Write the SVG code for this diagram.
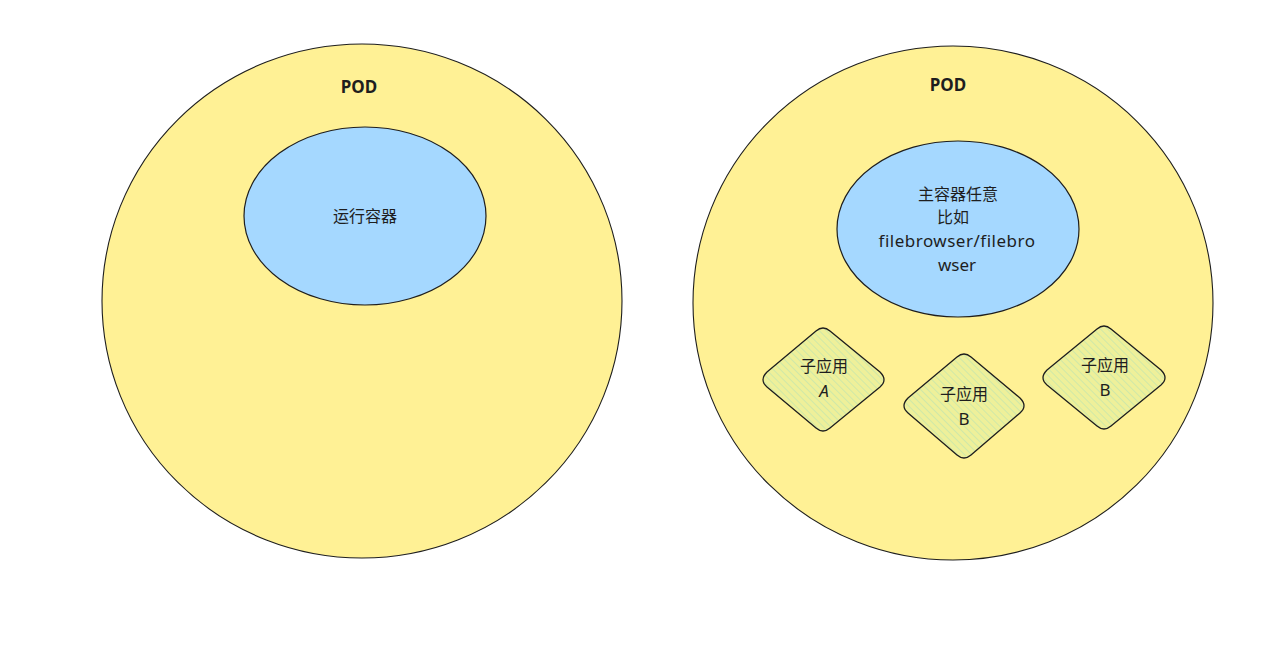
<svg xmlns="http://www.w3.org/2000/svg" width="1276" height="656" viewBox="0 0 1276 656">
<style>
.pod{fill:#fff08f;fill-opacity:0.95;stroke:#1e1e1e;stroke-width:1.1}
.ctr{fill:#a5d8ff;stroke:#1e1e1e;stroke-width:1.2}
.dia{fill:url(#hatch);stroke:#1e1e1e;stroke-width:1.3;stroke-linejoin:round}
.t{font-family:"Noto Sans","Noto Sans CJK SC",sans-serif;font-size:16px;fill:#1e1e1e;text-anchor:middle}
.h{font-family:"Noto Sans","Noto Sans CJK SC",sans-serif;font-size:17px;fill:#1e1e1e;text-anchor:middle}
</style>
<defs>
<pattern id="hatch" patternUnits="userSpaceOnUse" width="5" height="5" patternTransform="rotate(-45)">
<rect width="5" height="5" fill="#eef09a"/>
<line x1="0" y1="0" x2="0" y2="5" stroke="#cfe8a8" stroke-width="2"/>
</pattern>
</defs>
<rect width="1276" height="656" fill="#ffffff"/>
<g id="pod-left">
<ellipse class="pod" cx="362" cy="301" rx="260" ry="257"/>
<text class="h" x="359" y="93" font-weight="bold" font-size="15">POD</text>
</g>
<g id="container-left">
<ellipse class="ctr" cx="365" cy="216" rx="121" ry="89"/>
<text class="t" x="365" y="222">运行容器</text>
</g>
<g id="pod-right">
<ellipse class="pod" cx="953" cy="303" rx="260" ry="257"/>
<text class="h" x="948" y="91" font-weight="bold" font-size="15">POD</text>
</g>
<g id="container-right">
<ellipse class="ctr" cx="958" cy="229" rx="121" ry="88"/>
<text class="t" x="958" y="200">主容器任意</text>
<text class="t" x="953" y="223">比如</text>
<text class="h" x="957" y="247" letter-spacing="0.5">filebrowser/filebro</text>
<text class="h" x="957" y="271">wser</text>
</g>
<g id="app-a">
<path class="dia" d="M816 331 Q823 325 830 331 L880 372 Q888 380 880 387 L830 428 Q823 434 816 428 L767 387 Q759 380 767 372 Z"/>
<text class="t" x="824" y="372">子应用</text>
<text class="h" x="824" y="397" font-style="italic">A</text>
</g>
<g id="app-b1">
<path class="dia" d="M957 357 Q964 351 971 357 L1020 398 Q1028 406 1020 413 L971 455 Q964 461 957 455 L908 413 Q900 406 908 398 Z"/>
<text class="t" x="964" y="400">子应用</text>
<text class="h" x="964" y="425">B</text>
</g>
<g id="app-b2">
<path class="dia" d="M1097 329 Q1104 323 1111 329 L1161 370 Q1169 378 1161 385 L1111 426 Q1104 432 1097 426 L1047 385 Q1039 378 1047 370 Z"/>
<text class="t" x="1105" y="371">子应用</text>
<text class="h" x="1105" y="396">B</text>
</g>
<g id="connectors"></g>
</svg>
